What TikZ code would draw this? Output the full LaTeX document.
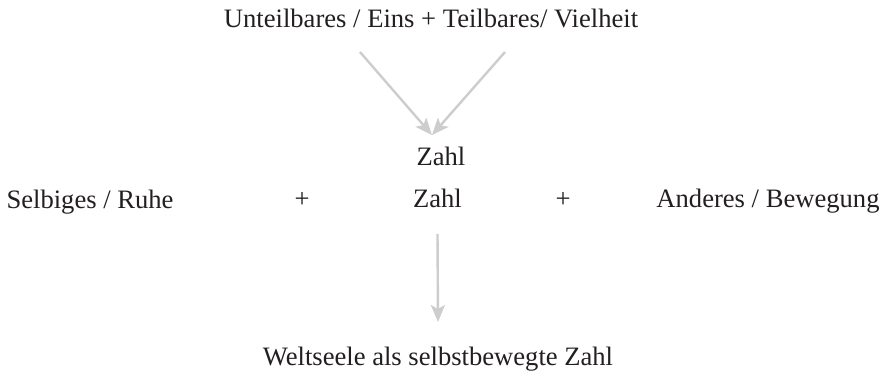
\documentclass[tikz,border=0pt]{standalone}
\usepackage{fontspec}
\setmainfont{Liberation Serif}
\usepackage{tikz}
\usetikzlibrary{arrows.meta}
\definecolor{pfeilgrau}{RGB}{205,205,205}
\definecolor{textgrau}{RGB}{35,31,32}

\begin{document}
\begin{tikzpicture}[x=1bp,y=-1bp,
  wort/.style={anchor=base,text=textgrau,font=\fontsize{26.6bp}{30bp}\selectfont},
  pfeil/.style={draw=pfeilgrau,line width=2.4bp,-{Stealth[length=17bp,width=14bp,inset=4bp]}}]
\useasboundingbox (0,0) rectangle (884,370);
\node[wort] (oben) at (431,27) {Unteilbares / Eins + Teilbares/ Vielheit};
\node[wort] (zahlA) at (441,165) {Zahl};
\node[wort] (zahlB) at (437.5,207) {Zahl};
\node[wort] (ruhe) at (90,208) {Selbiges / Ruhe};
\node[wort] (plusA) at (302,207) {+};
\node[wort] (plusB) at (563,207) {+};
\node[wort] (bewegung) at (768,207) {Anderes / Bewegung};
\node[wort] (welt) at (438,365) {Weltseele als selbstbewegte Zahl};
\coordinate (vonA) at (360,52);
\coordinate (vonB) at (505,52);
\coordinate (spitze) at ([xshift=-9bp,yshift=8bp]zahlA.north);
\draw[pfeil] (vonA) -- (spitze);
\draw[pfeil] (vonB) -- (spitze);
\draw[pfeil] ([yshift=-23bp]zahlB.south) -- ([yshift=21bp]welt.north);
\end{tikzpicture}
\end{document}
